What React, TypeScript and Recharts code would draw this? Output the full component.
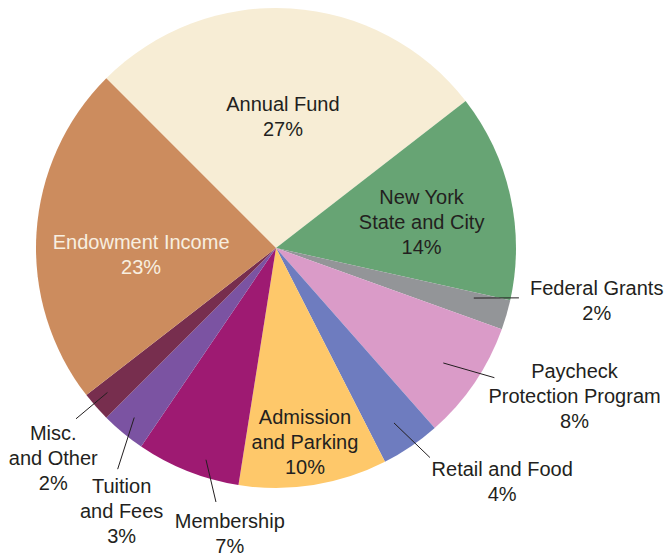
import { PieChart, Pie, Cell } from 'recharts'

const categories = [
    'Annual Fund',
    'New York State and City',
    'Federal Grants',
    'Paycheck Protection Program',
    'Retail and Food',
    'Admission and Parking',
    'Membership',
    'Tuition and Fees',
    'Misc. and Other',
    'Endowment Income',
]

const shares = [27, 14, 2, 8, 4, 10, 7, 3, 2, 23]

const colors = [
    '#f7edd5',
    '#67a474',
    '#939598',
    '#da9bc8',
    '#6e7cbf',
    '#fec86a',
    '#9e1a72',
    '#7b53a2',
    '#772e4e',
    '#cc8c5e',
]

// how each category name is broken over lines
const labelText: Record<string, string[]> = {
    'Annual Fund': ['Annual Fund'],
    'New York State and City': ['New York', 'State and City'],
    'Federal Grants': ['Federal Grants'],
    'Paycheck Protection Program': ['Paycheck', 'Protection Program'],
    'Retail and Food': ['Retail and Food'],
    'Admission and Parking': ['Admission', 'and Parking'],
    'Membership': ['Membership'],
    'Tuition and Fees': ['Tuition', 'and Fees'],
    'Misc. and Other': ['Misc.', 'and Other'],
    'Endowment Income': ['Endowment Income'],
}

type Polar = [number, number] // [angle in degrees, radius]

// label placement, polar around the pie centre
const LABEL_LAYOUT: Record<string, { text: Polar; start?: Polar; end?: Polar; color?: string }> = {
    'Annual Fund': { text: [87, 132] },
    'New York State and City': { text: [10.3, 148] },
    'Endowment Income': { text: [182.6, 135], color: '#f8efe0' },
    'Admission and Parking': { text: [-81.5, 196] },
    'Federal Grants': { start: [-14.2, 204], end: [-11.6, 248], text: [-9.3, 325] },
    'Paycheck Protection Program': { start: [-34.5, 203], end: [-30.7, 254], text: [-26.3, 333] },
    'Retail and Food': { start: [-56, 211], end: [-53.7, 260], text: [-45.9, 325] },
    'Membership': { start: [-108.3, 223], end: [-103.3, 261], text: [-99.2, 289] },
    'Tuition and Fees': { start: [-129.9, 221], end: [-125.6, 272], text: [-120.4, 305] },
    'Misc. and Other': { start: [-139.4, 222], end: [-139.5, 263], text: [-136.7, 306] },
}

const data = categories.map((name, i) => ({ name, value: shares[i] }))

const FONT = '"Liberation Sans", Arial, sans-serif'
const LINE_H = 25

function toXY(cx: number, cy: number, [a, r]: Polar) {
    const rad = (a * Math.PI) / 180
    return { x: cx + r * Math.cos(rad), y: cy - r * Math.sin(rad) }
}

function renderLabel(props: any) {
    const { cx, cy, name, value } = props
    const layout = LABEL_LAYOUT[name]
    if (!layout) return null
    const lines = [...labelText[name], `${value}%`]
    const p = toXY(cx, cy, layout.text)
    const top = p.y - ((lines.length - 1) * LINE_H) / 2
    let leader = null
    if (layout.start && layout.end) {
        const a = toXY(cx, cy, layout.start)
        const b = toXY(cx, cy, layout.end)
        leader = <line x1={a.x} y1={a.y} x2={b.x} y2={b.y} stroke="#231f20" strokeWidth={1} />
    }
    return (
        <g>
            {leader}
            <text
                x={p.x}
                y={top}
                textAnchor="middle"
                fill={layout.color || '#231f20'}
                fontFamily={FONT}
                fontSize={20}
            >
                {lines.map((t, i) => (
                    <tspan key={i} x={p.x} y={top + i * LINE_H} dominantBaseline="central">
                        {t}
                    </tspan>
                ))}
            </text>
        </g>
    )
}

export default function App() {
    return (
        <div style={{ position: 'absolute', left: 0, top: 0, width: 664, height: 557, background: '#fff' }}>
            <PieChart width={664} height={557} margin={{ top: 0, right: 0, bottom: 0, left: 0 }}>
                <Pie
                    data={data}
                    dataKey="value"
                    nameKey="name"
                    cx={276}
                    cy={248}
                    outerRadius={240}
                    startAngle={135}
                    endAngle={-225}
                    stroke="none"
                    label={renderLabel}
                    labelLine={false}
                    isAnimationActive={false}
                >
                    {data.map((entry, idx) => (
                        <Cell key={idx} fill={colors[idx]} />
                    ))}
                </Pie>
            </PieChart>
        </div>
    )
}
